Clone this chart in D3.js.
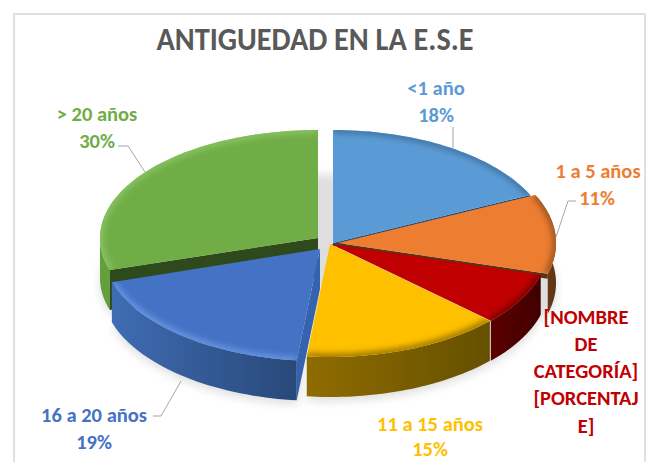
<!DOCTYPE html>
<html><head><meta charset="utf-8">
<script src="https://cdnjs.cloudflare.com/ajax/libs/d3/7.8.5/d3.min.js"></script>
<style>html,body{margin:0;padding:0;background:#fff}svg{display:block}</style>
</head><body><svg id="c" width="652" height="462"></svg>
<script>
const categories = ["<1 año","1 a 5 años","[NOMBRE DE CATEGORÍA]","11 a 15 años","16 a 20 años","> 20 años"];
const values = [18,11.4,7.5,14.8,18.5,29.8];
const percentLabels = ["18%","11%","[PORCENTAJE]","15%","19%","30%"];
const title = "ANTIGUEDAD EN LA E.S.E";

const topColors  = ["#5b9bd5","#ed7d31","#c00000","#ffc000","#4472c4","#70ad47"];
const wallLeft   = ["#5b9bd5","#7a4519","#5a0000","#8f6c00","#3f6cb3","#62a03c"];
const wallRight  = ["#3a6a96","#5c3316","#420000","#655000","#284878","#62a03c"];
const cutColors  = ["#22476b","#5c3316","#5a0000","#8f6c00","#3563ad","#2e4a1c"];
const rimColors  = ["#3d6d9c","#8a4d1d","#6d0000","#8a6800","#6d9be8","#8cc765"];
const apexes = [[333,243],[338,243],[331,244],[330,244],[320,249],[318,238]];
const radiiY = [113,113,113,113,112,108];
const rx = 218, depth = 40;
const font = "Calibri, Carlito, 'Open Sans', 'Noto Sans', sans-serif";

const svg = d3.select("#c");
const defs = svg.append("defs");
const blur = (id,s)=>defs.append("filter").attr("id",id).attr("x","-30%").attr("y","-30%").attr("width","160%").attr("height","160%")
  .append("feGaussianBlur").attr("stdDeviation",s);
blur("soft",5); blur("rim",3);

// chart frame
svg.append("rect").attr("x",14).attr("y",14).attr("width",631).attr("height",480)
  .attr("fill","#fff").attr("stroke","#e0e0e0").attr("stroke-width",2);

svg.append("text").attr("x",315).attr("y",50).attr("text-anchor","middle")
  .attr("font-family",font).attr("font-weight",700).attr("font-size",32)
  .attr("textLength",317).attr("lengthAdjust","spacingAndGlyphs")
  .attr("fill","#595959").text(title);

const pie = d3.pie().sort(null).value(d=>d)(values);
const pt = (i,a,dy=0)=>[apexes[i][0]+rx*Math.sin(a), apexes[i][1]-radiiY[i]*Math.cos(a)+dy];
const arcPts = (i,a0,a1,dy=0)=>d3.range(0,41).map(k=>pt(i,a0+(a1-a0)*k/40,dy));
const line = d3.line();
const topPath = (d,i)=>line([apexes[i],...arcPts(i,d.startAngle,d.endAngle)])+"Z";
const frontRange = d=>[Math.max(d.startAngle,Math.PI/2),Math.min(d.endAngle,3*Math.PI/2)];
const wallPath = (d,i)=>{
  const [a,b]=frontRange(d);
  const s = Math.max(d.startAngle,Math.PI/2-0.6);
  return line([...arcPts(i,i===1?s:a,b),...arcPts(i,i===1?s:a,b,depth).reverse()])+"Z";
};

// soft shadow of the whole pie, closing the gap between the exploded slices
const shadow = svg.append("g").attr("filter","url(#soft)").attr("transform","translate(0,44)");
shadow.selectAll("path").data(pie).join("path").attr("d",topPath).attr("fill","#dedede");
shadow.append("rect").attr("x",315).attr("y",131).attr("width",21).attr("height",115).attr("fill","#dedede");

// wall gradients
pie.forEach((d,i)=>{
  const g=defs.append("linearGradient").attr("id","w"+i).attr("gradientUnits","objectBoundingBox");
  g.append("stop").attr("offset",0).attr("stop-color",wallLeft[i]);
  g.append("stop").attr("offset",1).attr("stop-color",wallRight[i]);
  defs.append("clipPath").attr("id","t"+i).append("path").attr("d",topPath(d,i));
});

// back to front
const order = [0,5,1,4,2,3];
const cutDepth = [4,5,0,0,depth,depth];
order.forEach(i=>{
  const d=pie[i];
  const g=svg.append("g").datum(d);
  if(i!==0){
    g.append("path").attr("d",wallPath(d,i)).attr("fill",`url(#w${i})`);
  }
  const a=apexes[i];
  if(cutDepth[i]>0){
    const e=pt(i,i<2?d.endAngle:d.startAngle);
    g.append("path").attr("d",line([a,e,[e[0],e[1]+cutDepth[i]],[a[0],a[1]+cutDepth[i]]])+"Z").attr("fill",cutColors[i]);
  }
  g.append("path").attr("d",topPath(d,i)).attr("fill",topColors[i]);
  g.append("g").attr("clip-path",`url(#t${i})`).append("path")
    .attr("d",line(arcPts(i,d.startAngle,d.endAngle))).attr("fill","none")
    .attr("stroke",rimColors[i]).attr("stroke-width",6).attr("filter","url(#rim)");
});

// leader lines
const leaders = [
  [[453,127],[453,148]],
  [[576,201],[568,201],[556,237]],
  [[118,146],[128,146],[145,172]],
  [[153,416],[161,416],[181,381]]
];
svg.append("g").selectAll("path").data(leaders).join("path")
  .attr("d",d=>line(d)).attr("fill","none").attr("stroke","#a6a6a6").attr("stroke-width",1);

// labels
const labelColors = ["#5b9bd5","#ed7d31","#c00000","#ffc000","#4472c4","#70ad47"];
const labelLines = [
  [[436,95,categories[0]],[436,122,percentLabels[0]]],
  [[598,178,categories[1]],[597,205,percentLabels[1]]],
  [[586,324,"[NOMBRE"],[586,351,"DE"],[586,378,"CATEGORÍA]"],[586,405,"[PORCENTAJ"],[586,433,"E]"]],
  [[430,431,categories[3]],[430,456,percentLabels[3]]],
  [[94,422,categories[4]],[94,449,percentLabels[4]]],
  [[97,121,categories[5]],[97,148,percentLabels[5]]]
];
labelLines.forEach((ls,i)=>ls.forEach(l=>{
  svg.append("text").attr("x",l[0]).attr("y",l[1]).attr("text-anchor","middle")
    .attr("font-family",font).attr("font-weight",700).attr("font-size",20.5)
    .attr("fill",labelColors[i]).text(l[2]);
}));
</script></body></html>
